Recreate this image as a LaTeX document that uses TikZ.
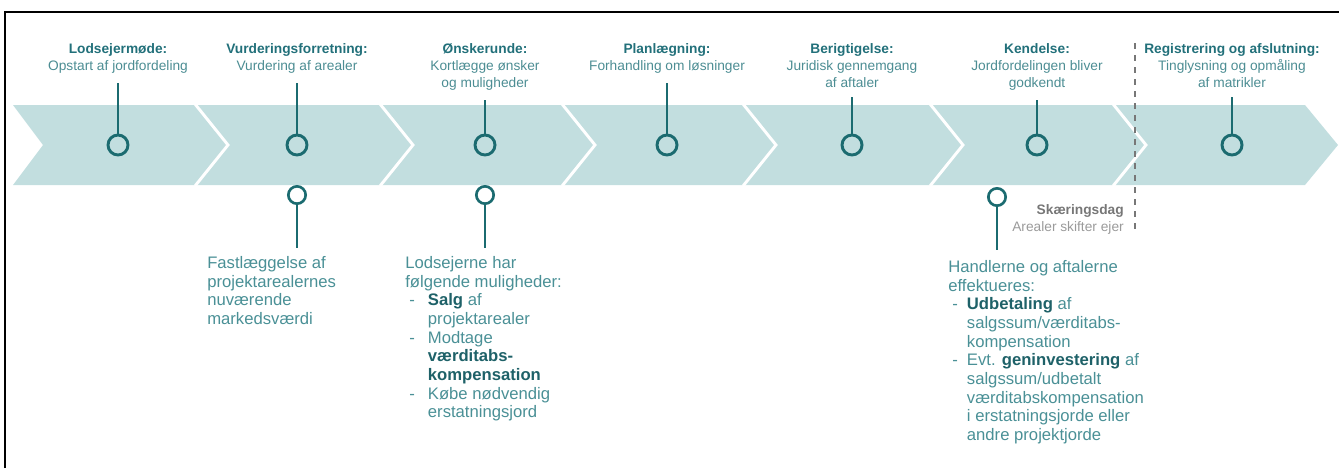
\documentclass[tikz,border=0pt]{standalone}
\usepackage{fontspec}
\setmainfont{Liberation Sans}
\usepackage{tikz}
\usetikzlibrary{positioning}
\usepackage{xcolor}
\definecolor{bandFill}{HTML}{C2DEDF}
\definecolor{stemTeal}{HTML}{1B6B70}
\definecolor{headTeal}{HTML}{22707A}
\definecolor{subTeal}{HTML}{4C8D93}
\definecolor{bodyTeal}{HTML}{4A9096}
\definecolor{boldTeal}{HTML}{1E6168}
\definecolor{cutDark}{HTML}{777777}
\definecolor{cutLight}{HTML}{9A9A9A}

\newcommand{\kw}[1]{{\bfseries\color{boldTeal}#1}}
\newcommand{\dashitem}[1][17pt]{\makebox[#1][l]{\hspace{3pt}-}}
\newcommand{\itemind}[1][17pt]{\hspace*{#1}}

\begin{document}
\begin{tikzpicture}[x=0.75pt, y=-0.75pt,
    phase/.style={anchor=north, align=center, inner sep=0pt, text=subTeal,
        font=\fontsize{10.3}{12.75}\selectfont},
    ring/.style={circle, draw=stemTeal, line width=2.2pt, minimum size=15pt, inner sep=0pt},
    lowring/.style={circle, draw=stemTeal, line width=2pt, minimum size=13pt, inner sep=0pt},
    stem/.style={draw=stemTeal, line width=2pt},
    note/.style={anchor=north west, align=left, inner sep=0pt, text=bodyTeal,
        font=\fontsize{12.5}{14}\selectfont},
    cutnote/.style={anchor=north east, align=right, inner sep=0pt, text=cutLight,
        font=\fontsize{10.3}{12.75}\selectfont}]
    \useasboundingbox (0,0) rectangle (1339,468);

    % Frame
    \draw[line width=1.1pt] (5,468) -- (5,12) -- (1339,12);

    % Band
    \fill[bandFill] (13,105) -- (1305,105) -- (1338,145) -- (1305,185) -- (13,185) -- (43,145) -- cycle;
    \foreach \b in {195,380,562,743,930,1113} {
        \draw[white, line width=2.2pt] (\b,104) -- (\b+33,145) -- (\b,186);
    }

    % Cut-off date
    \coordinate (cuttop) at (1135,43);
    \coordinate (cutbot) at (1135,230);
    \draw[cutDark, line width=2.2pt, dash pattern=on 4.5pt off 4.5pt] (cuttop) -- (cutbot);
    \node[cutnote] (cut) at (1124,204) {\textcolor{cutDark}{\bfseries Skæringsdag}\\Arealer skifter ejer};

    % Phases
    \foreach \x/\ttl/\sub [count=\i] in {
        118/Lodsejermøde:/Opstart af jordfordeling,
        297/Vurderingsforretning:/Vurdering af arealer,
        485/Ønskerunde:/{Kortlægge ønsker\\og muligheder},
        667/Planlægning:/Forhandling om løsninger,
        852/Berigtigelse:/{Juridisk gennemgang\\af aftaler},
        1037/Kendelse:/{Jordfordelingen bliver\\godkendt},
        1232/Registrering og afslutning:/{Tinglysning og opmåling\\af matrikler}} {
        \node[phase] (h\i) at (\x,43) {\textcolor{headTeal}{\bfseries\ttl}\\\sub};
        \node[ring] (c\i) at (\x,145) {};
        \draw[stem, shorten >=7pt] (c\i.north) -- (h\i.south);
    }

    % Details below
    \node[lowring] (low2) at (297,195) {};
    \node[lowring] (low3) at (485,195) {};
    \node[lowring] (low6) at (997,197) {};
    \coordinate (end2) at (297,248);
    \coordinate (end3) at (485,248);
    \coordinate (end6) at (997,250);
    \draw[stem] (low2.south) -- (end2);
    \draw[stem] (low3.south) -- (end3);
    \draw[stem] (low6.south) -- (end6);

    \node[note] (n2) at (207,256) {Fastlæggelse af\\projektarealernes\\nuværende\\markedsværdi};
    \node[note] (n3) at (405,256) {Lodsejerne har\\følgende muligheder:\\
        \dashitem\kw{Salg} af\\\itemind projektarealer\\
        \dashitem Modtage\\\itemind\kw{værditabs-}\\\itemind\kw{kompensation}\\
        \dashitem Købe nødvendig\\\itemind erstatningsjord};
    \node[note] (n6) at (948,260) {Handlerne og aftalerne\\effektueres:\\
        \dashitem[14pt]\kw{Udbetaling} af\\\itemind[14pt]salgssum/værditabs-\\\itemind[14pt]kompensation\\
        \dashitem[14pt]Evt. \kw{geninvestering} af\\\itemind[14pt]salgssum/udbetalt\\
        \itemind[14pt]værditabskompensation\\\itemind[14pt]i erstatningsjorde eller\\
        \itemind[14pt]andre projektjorde};
\end{tikzpicture}
\end{document}
